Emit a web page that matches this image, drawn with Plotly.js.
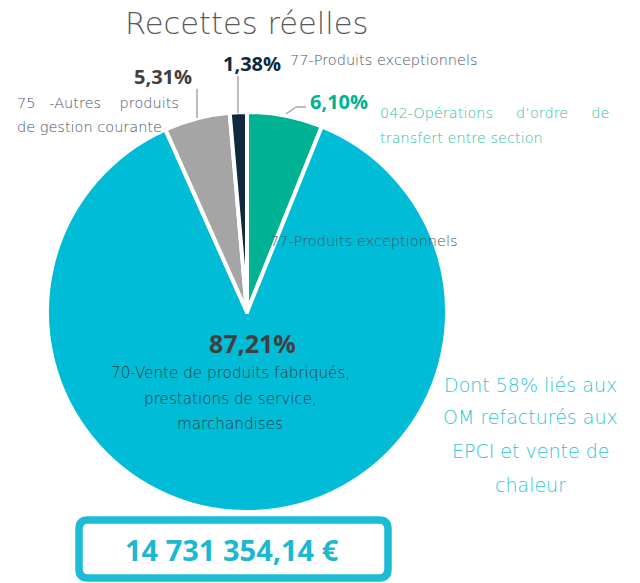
<!DOCTYPE html>
<html><head><meta charset="utf-8">
<script src="https://cdn.plot.ly/plotly-3.0.1.min.js"></script>
<style>html,body{margin:0;padding:0;background:#fff}#c{width:640px;height:583px}</style>
</head><body><div id="c"></div>
<script>
const categories = ["042-Opérations d'ordre de transfert entre section","70-Vente de produits fabriqués, prestations de service, marchandises","75 -Autres produits de gestion courante","77-Produits exceptionnels"];
const shares = [6.10, 87.21, 5.31, 1.38];
const shareLabels = ["6,10%","87,21%","5,31%","1,38%"];
const colors = ["#00B294","#00BCD6","#A5A5A5","#0E2A3C"];
const totalLabel = "14 731 354,14 €";

const W=640,H=583;
const px=x=>x/W, py=y=>1-y/H;
const thin = {family:"'DejaVu Sans', sans-serif", weight:200};
const bold = {family:"'Open Sans', 'Noto Sans', sans-serif", weight:700};
const sp = n => "&nbsp;".repeat(n);

function ann(text,x,y,size,color,font,xanchor){
  return {text:text,x:px(x),y:py(y),xref:'paper',yref:'paper',showarrow:false,
    xanchor:xanchor||'center',yanchor:'middle',align:xanchor==='left'?'left':'center',
    font:Object.assign({size:size,color:color},font)};
}
const annotations=[
  ann("Recettes réelles",246,23,30.5,"#595959",thin),
  ann(shareLabels[3],252,63,20,"#0E2A3C",bold),
  ann("77-Produits exceptionnels",288,60,14.5,"#44546A",thin,'left'),
  ann(shareLabels[2],163,77,20,"#404040",bold),
  ann("75 "+sp(2)+"-Autres "+sp(3)+"produits",15,103,14.5,"#44546A",thin,'left'),
  ann("de gestion courante",15,127,14.5,"#44546A",thin,'left'),
  ann(shareLabels[0],339,101,20,"#00B294",bold),
  ann("042-Opérations "+sp(4)+"d’ordre "+sp(4)+"de",378,113,14.5,"#2EC0A0",thin,'left'),
  ann("transfert entre section",378,138,14.5,"#2EC0A0",thin,'left'),
  ann("77-Produits exceptionnels",268,241,14.5,"#44546A",thin,'left'),
  ann(shareLabels[1],252,343,25,"#404040",bold),
  ann("70-Vente de produits fabriqués,",230,373,15.2,"#2A3B47",thin),
  ann("prestations de service,",230,399,15.2,"#2A3B47",thin),
  ann("marchandises",230,424,15.2,"#2A3B47",thin),
  ann("Dont 58% liés aux",530,385,19,"#2CC3DA",thin),
  ann("OM refacturés aux",530,417,19,"#2CC3DA",thin),
  ann("EPCI et vente de",530,451,19,"#2CC3DA",thin),
  ann("chaleur",530,485,19,"#2CC3DA",thin),
  ann(totalLabel,232,549,29,"#1DB8D0",bold)
];
function ln(x0,y0,x1,y1){return {type:'line',xref:'paper',yref:'paper',x0:px(x0),y0:py(y0),x1:px(x1),y1:py(y1),line:{color:'#A6A6A6',width:1.5}};}
const r=9,L=79,R=388,T=520,B=578;
const path=`M ${px(L+r)},${py(T)} L ${px(R-r)},${py(T)} Q ${px(R)},${py(T)} ${px(R)},${py(T+r)} L ${px(R)},${py(B-r)} Q ${px(R)},${py(B)} ${px(R-r)},${py(B)} L ${px(L+r)},${py(B)} Q ${px(L)},${py(B)} ${px(L)},${py(B-r)} L ${px(L)},${py(T+r)} Q ${px(L)},${py(T)} ${px(L+r)},${py(T)} Z`;
const shapes=[
  ln(197,89,197,118), ln(238,76,238,113),
  ln(286,114,296,107), ln(296,107,306,107),
  {type:'path',xref:'paper',yref:'paper',path:path,line:{color:'#1DBCD6',width:7.5},fillcolor:'rgba(0,0,0,0)'}
];
Plotly.newPlot('c',[{
  type:'pie',labels:categories,values:shares,sort:false,direction:'clockwise',rotation:0,
  marker:{colors:colors,line:{color:'#ffffff',width:4}},textinfo:'none',hoverinfo:'none',
  domain:{x:[px(47),px(447)],y:[py(512),py(112)]}
}],{width:W,height:H,margin:{l:0,r:0,t:0,b:0},showlegend:false,paper_bgcolor:'#fff',
  annotations:annotations,shapes:shapes},{staticPlot:true});
</script></body></html>
